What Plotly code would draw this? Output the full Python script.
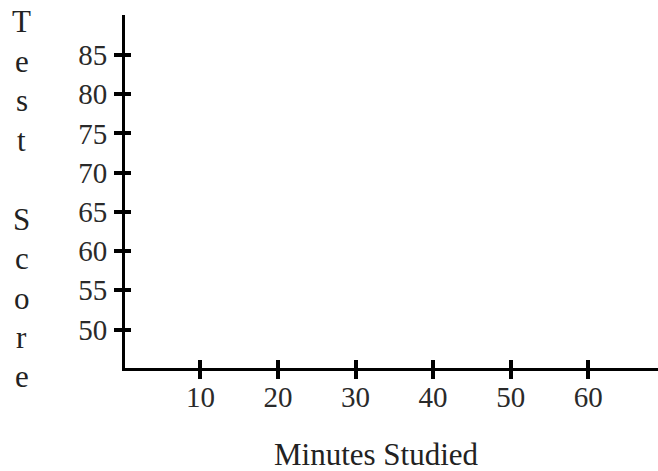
import plotly.graph_objects as go

x_ticks = [10, 20, 30, 40, 50, 60]
y_ticks = [50, 55, 60, 65, 70, 75, 80, 85]
x_title = "Minutes Studied"
y_title_letters = ["T", "e", "s", "t", "", "S", "c", "o", "r", "e"]

FONT = "Liberation Serif, Times New Roman, serif"
W, H = 658, 471
L, R, T, B = 124.5, 0, 15, 102.5

fig = go.Figure()
fig.add_trace(go.Scatter(x=[], y=[], xaxis="x", yaxis="y", showlegend=False))
fig.add_trace(go.Scatter(x=[], y=[], xaxis="x2", yaxis="y2", showlegend=False))

xr = [0.27, 69]
yr = [45.1, 90.1]
common_x = dict(range=xr, tickvals=x_ticks, showgrid=False, zeroline=False, fixedrange=True)
common_y = dict(range=yr, tickvals=y_ticks, showgrid=False, zeroline=False, fixedrange=True)

fig.update_layout(
    width=W, height=H,
    margin=dict(l=L, r=R, t=T, b=B, pad=0),
    paper_bgcolor="white", plot_bgcolor="white",
    font=dict(family=FONT, size=30, color="#222"),
    xaxis=dict(**common_x, showline=True, linecolor="black", linewidth=3,
               ticks="outside", ticklen=8, tickwidth=3.5, tickcolor="black",
               ticklabelstandoff=-7,
               tickfont=dict(family=FONT, size=29, color="#2a2a2a")),
    yaxis=dict(**common_y, showline=True, linecolor="black", linewidth=3,
               ticks="outside", ticklen=8, tickwidth=3.5, tickcolor="black",
               ticklabelstandoff=1,
               tickfont=dict(family=FONT, size=29, color="#2a2a2a")),
    xaxis2=dict(**common_x, overlaying="x", anchor="y2", showline=False,
                ticks="inside", ticklen=8, tickwidth=3.5, tickcolor="black",
                showticklabels=False),
    yaxis2=dict(**common_y, overlaying="y", anchor="x2", showline=False,
                ticks="inside", ticklen=6, tickwidth=3.5, tickcolor="black",
                showticklabels=False),
)

fig.add_annotation(text=x_title, xref="paper", yref="paper",
                   x=(376 - L) / (W - L - R), y=-(455 - (H - B)) / (H - T - B),
                   showarrow=False, xanchor="center", yanchor="middle",
                   font=dict(family=FONT, size=31, color="#222"))

top_px, step_px = 22, 39.5
for i, ch in enumerate(y_title_letters):
    if not ch:
        continue
    py = top_px + i * step_px
    fig.add_annotation(text=ch, xref="paper", yref="paper",
                       x=-(L - 21) / (W - L - R), y=1 - (py - T) / (H - T - B),
                       showarrow=False, xanchor="center", yanchor="middle",
                       font=dict(family=FONT, size=31, color="#222"))

fig.write_html("out.html", config={"displayModeBar": False},
               post_script="document.body.style.margin='0';document.body.style.overflow='hidden';")
